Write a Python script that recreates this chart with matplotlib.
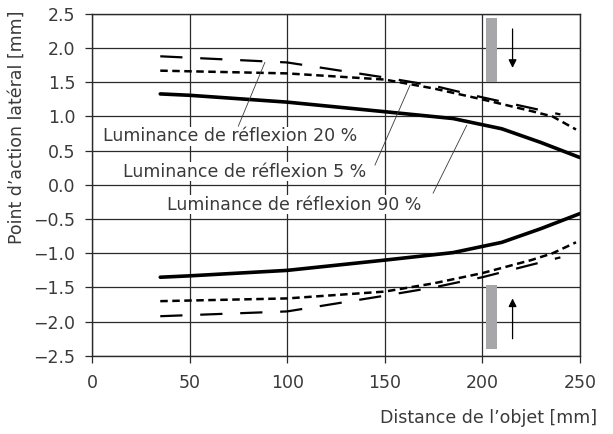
import matplotlib
matplotlib.use('Agg')
import matplotlib.pyplot as plt

# distance [mm] vs lateral action point [mm]
x90 = [35, 50, 100, 150, 185, 210, 230, 250]
up90 = [1.33, 1.31, 1.21, 1.07, 0.97, 0.82, 0.62, 0.40]
lo90 = [-1.35, -1.33, -1.25, -1.10, -0.99, -0.84, -0.64, -0.42]

x5 = [35, 100, 150, 175, 200, 225, 236, 248]
up5 = [1.67, 1.63, 1.54, 1.41, 1.25, 1.08, 1.00, 0.81]
lo5 = [-1.70, -1.66, -1.56, -1.44, -1.29, -1.10, -1.00, -0.84]

x20 = [35, 100, 150, 175, 200, 240]
up20 = [1.88, 1.79, 1.57, 1.45, 1.28, 1.03]
lo20 = [-1.92, -1.85, -1.62, -1.50, -1.35, -1.06]

xticks = [0, 50, 100, 150, 200, 250]
yticks = [2.5, 2.0, 1.5, 1.0, 0.5, 0.0, -0.5, -1.0, -1.5, -2.0, -2.5]

plt.rcParams['font.family'] = ['DejaVu Sans']
fs = 12.5
txt = '#3a3a3a'

fig = plt.figure(figsize=(6.13, 4.34), dpi=100)
ax = fig.add_axes([0.150, 0.180, 0.796, 0.788])

ax.plot(x90, up90, color='black', lw=2.6, solid_capstyle='round')
ax.plot(x90, lo90, color='black', lw=2.6, solid_capstyle='round')
ax.plot(x5, up5, color='black', lw=1.8, dashes=(3, 1.8))
ax.plot(x5, lo5, color='black', lw=1.8, dashes=(3, 1.8))
ax.plot(x20, up20, color='black', lw=1.6, dashes=(10, 8))
ax.plot(x20, lo20, color='black', lw=1.6, dashes=(10, 8))

# gray bars and arrows
ax.fill_between([202, 207.5], 1.51, 2.44, color='#a7a7a9', lw=0)
ax.fill_between([202, 207.5], -2.40, -1.47, color='#a7a7a9', lw=0)
ax.annotate('', xy=(215.5, 1.67), xytext=(215.5, 2.32),
            arrowprops=dict(arrowstyle='-|>', color='black', lw=0.9, mutation_scale=12))
ax.annotate('', xy=(215.5, -1.62), xytext=(215.5, -2.29),
            arrowprops=dict(arrowstyle='-|>', color='black', lw=0.9, mutation_scale=12))

# labels with leader lines
lbl = dict(color=txt, fontsize=fs, va='center',
           bbox=dict(facecolor='white', edgecolor='none', pad=0.5))
ax.text(5.6, 0.71, 'Luminance de réflexion 20 %', ha='left', **lbl)
ax.text(16, 0.195, 'Luminance de réflexion 5 %', ha='left', **lbl)
ax.text(38.2, -0.29, 'Luminance de réflexion 90 %', ha='left', **lbl)
ax.plot([75, 88.6], [0.86, 1.79], color=txt, lw=0.6)
ax.plot([145, 163], [0.29, 1.46], color=txt, lw=0.6)
ax.plot([174.8, 192], [-0.12, 0.87], color=txt, lw=0.6)

ax.set_xlim(0, 250)
ax.set_ylim(-2.5, 2.5)
ax.set_xticks(xticks)
ax.set_yticks(yticks)
ax.set_yticklabels([f'{v:.1f}'.replace('-', '\u2212') for v in yticks])
ax.grid(True, color='#2a2a2a', lw=0.9)
ax.set_axisbelow(True)
for s in ax.spines.values():
    s.set_color('#2a2a2a')
    s.set_linewidth(1.0)
ax.tick_params(direction='out', length=5, width=0.9, color='#2a2a2a',
               labelcolor=txt, labelsize=fs)
ax.tick_params(axis='x', pad=8)
ax.tick_params(axis='y', pad=7)

fig.text(0.974, 1 - 418 / 434, 'Distance de l\u2019objet [mm]', ha='right',
         va='center', color=txt, fontsize=fs)
fig.text(0.028, 1 - 10 / 434, 'Point d\u2019action latéral [mm]', rotation=90,
         ha='center', va='top', color=txt, fontsize=fs)

fig.savefig('out.png', dpi=100)
